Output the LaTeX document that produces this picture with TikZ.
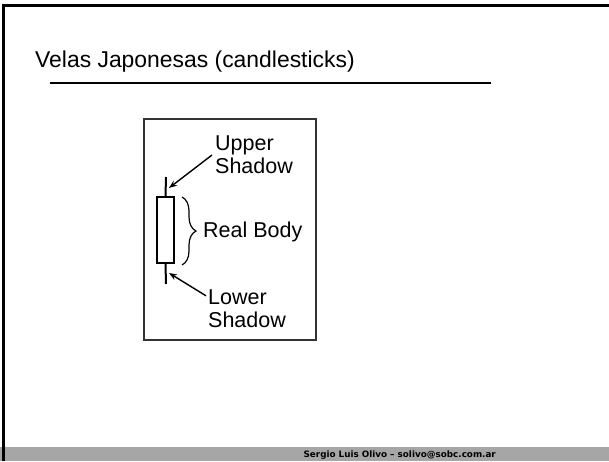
\documentclass[tikz,border=0pt]{standalone}
\usepackage{fontspec}
\setmainfont{Liberation Sans}
\newfontfamily\footfont{DejaVu Sans}
\usetikzlibrary{arrows.meta,decorations.pathreplacing}
\begin{document}
\begin{tikzpicture}[x=1pt, y=-1pt,
    lbl/.style={inner sep=0pt, align=left, font=\fontsize{21.5}{23}\selectfont},
    wick/.style={line width=2pt},
    pointer/.style={line width=1.4pt, -{Stealth[length=8pt, width=6pt]}}]
    \useasboundingbox (0,0) rectangle (609,461);
    \fill[black!35] (0,447) rectangle (609,461);
    \draw[line width=3pt] (3,461) -- (3,5.5) -- (609,5.5);
    \node[anchor=base west, inner sep=0pt, font=\fontsize{22.9}{26}\selectfont] (title) at (35,67) {Velas Japonesas (candlesticks)};
    \draw[line width=2pt] (50,83.3) -- (491,83.3);
    \node[anchor=base east, inner sep=0pt, font=\footfont\bfseries\fontsize{8.8}{10}\selectfont] (author) at (496,457) {Sergio Luis Olivo – solivo@sobc.com.ar};
    \draw[line width=2pt, black!80] (144,119) rectangle (316,340);
    \node[draw, line width=2pt, minimum width=17pt, minimum height=66pt, inner sep=0pt] (body) at (165.5,230) {};
    \coordinate (wicktop) at (166,177);
    \coordinate (wickbot) at (166,284);
    \draw[wick] (wicktop) -- (body.north);
    \draw[wick] (body.south) -- (wickbot);
    \coordinate (uptip) at (169,188);
    \coordinate (lowtip) at (169,273);
    \node[lbl, anchor=west] (upperlbl) at (215,155) {Upper\\Shadow};
    \node[lbl, anchor=west] (lowerlbl) at (208,309) {Lower\\Shadow};
    \node[lbl, anchor=base west] (bodylbl) at (203,237) {Real Body};
    \draw[pointer] ([xshift=-3pt]upperlbl.west) -- (uptip);
    \draw[pointer] ([shift={(-2pt,-6pt)}]lowerlbl.north west) -- (lowtip);
    \draw[line width=1.2pt, decorate, decoration={brace, amplitude=14pt}] (182,197) -- (182,265);
\end{tikzpicture}
\end{document}
